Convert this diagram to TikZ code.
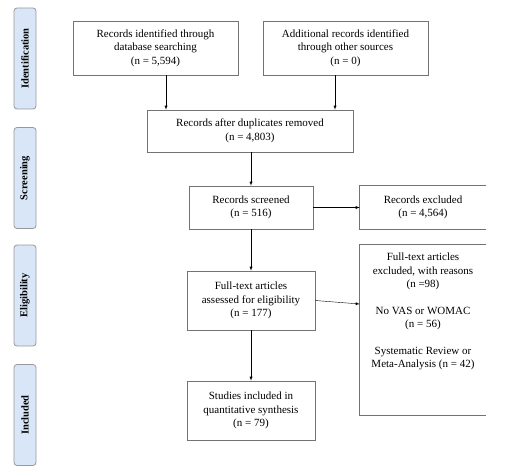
\documentclass[tikz,border=0pt]{standalone}
\usepackage{fontspec}
\setmainfont{Liberation Serif}
\usepackage{tikz}
\definecolor{phaseblue}{RGB}{216,230,247}

\begin{document}
\begin{tikzpicture}[x=1pt,y=-1pt,>=latex,
    box/.style={draw=black!55,line width=0.6pt,align=center,inner sep=0pt,
        font=\fontsize{11}{13.5}\selectfont},
    phase/.style={draw=black!40,line width=0.8pt,fill=phaseblue,rounded corners=3pt,
        rotate=90,minimum width=101pt,minimum height=22pt,inner sep=0pt,
        font=\fontsize{10.5}{12}\selectfont\bfseries}]
    \useasboundingbox (0,0) rectangle (510,473);
    % phases on the left
    \node[phase] (ident) at (25,58.5) {Identification};
    \node[phase] (screen) at (25,178) {Screening};
    \node[phase] (elig) at (25,295.5) {Eligibility};
    \node[phase] (incl) at (25,415) {Included};
    % main boxes
    \node[box,minimum width=165pt,minimum height=54pt] (db) at (155.5,48) {Records identified through\\database searching\\(n = 5,594)};
    \node[box,minimum width=165pt,minimum height=54pt] (other) at (345.5,48) {Additional records identified\\through other sources\\(n = 0)};
    \node[box,minimum width=206pt,minimum height=42pt] (dup) at (250,131) {Records after duplicates removed\\(n = 4,803)};
    \node[box,minimum width=124pt,minimum height=43pt] (scr) at (251,207.5) {Records screened\\(n = 516)};
    \node[box,minimum width=128pt,minimum height=59pt] (ft) at (251,300.5) {Full-text articles\\assessed for eligibility\\(n = 177)};
    \node[box,minimum width=128pt,minimum height=59pt] (incstud) at (251,410.5) {Studies included in\\quantitative synthesis\\(n = 79)};
    % boxes on the right, cut at the edge
    \node[box,draw=none,minimum width=126pt,minimum height=43pt] (exc) at (423,207.5) {Records excluded\\(n = 4,564)};
    \node[box,draw=none,minimum width=126pt,minimum height=170pt] (exr) at (423,330) {};
    \node[box,draw=none,anchor=north] (exrtext) at ([yshift=-8pt]exr.north) {Full-text articles\\excluded, with reasons\\(n =98)\\[13pt]No VAS or WOMAC\\(n = 56)\\[13pt]Systematic Review or\\Meta-Analysis (n = 42)};
    \draw[black!55,line width=0.6pt] (exc.north east) -- (exc.north west) -- (exc.south west) -- (exc.south east);
    \draw[black!55,line width=0.6pt] (exr.north east) -- (exr.north west) -- (exr.south west) -- (exr.south east);
    % arrows
    \draw[->] ([xshift=10.5pt]db.south) -- ([xshift=10.5pt]db.south |- dup.north);
    \draw[->] ([xshift=-10.5pt]other.south) -- ([xshift=-10.5pt]other.south |- dup.north);
    \draw[->] (scr.north |- dup.south) -- (scr.north);
    \draw[->] (scr.east) -- (exc.west);
    \draw[->] (scr.south) -- (ft.north);
    \draw[->] (ft.east) -- ([yshift=26pt]exr.west);
    \draw[->] (ft.south) -- (incstud.north);
\end{tikzpicture}
\end{document}
